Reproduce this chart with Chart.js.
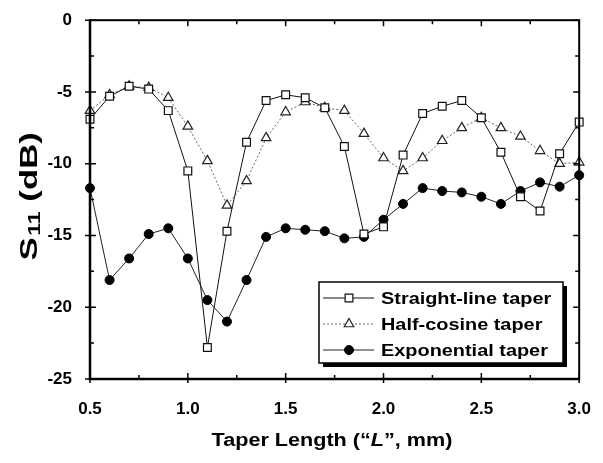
<!DOCTYPE html>
<html lang="en">
<head>
<meta charset="UTF-8">
<title>S11 vs taper length</title>
<script src="https://cdn.jsdelivr.net/npm/chart.js"></script>
<style>
  html, body { margin: 0; padding: 0; background: #fff; }
  #wrap { width: 603px; height: 463px; }
</style>
</head>
<body>
<div id="wrap"><canvas id="grafico"></canvas></div>

<script>
    // taper length L (mm)
    const comprimentos = [0.5, 0.6, 0.7, 0.8, 0.9, 1.0, 1.1, 1.2, 1.3, 1.4, 1.5, 1.6, 1.7,
                          1.8, 1.9, 2.0, 2.1, 2.2, 2.3, 2.4, 2.5, 2.6, 2.7, 2.8, 2.9, 3.0];

    // S11 (dB)
    const retaLinear = [-6.9, -5.3, -4.6, -4.8, -6.3, -10.5, -22.8, -14.7, -8.5, -5.6, -5.2, -5.4, -6.1,
                        -8.8, -14.9, -14.4, -9.4, -6.5, -6.0, -5.6, -6.8, -9.2, -12.3, -13.3, -9.3, -7.1];
    const meioCosseno = [-6.3, -5.2, -4.6, -4.7, -5.4, -7.4, -9.8, -12.9, -11.2, -8.2, -6.4, -5.7, -6.1,
                         -6.3, -7.9, -9.6, -10.5, -9.6, -8.4, -7.5, -6.8, -7.5, -8.1, -9.1, -10.0, -9.9];
    const exponencial = [-11.7, -18.1, -16.6, -14.9, -14.5, -16.6, -19.5, -21.0, -18.1, -15.1, -14.5, -14.6, -14.7,
                         -15.2, -15.1, -13.9, -12.8, -11.7, -11.9, -12.0, -12.3, -12.8, -11.9, -11.3, -11.6, -10.8];

    const nomesSeries = ['Straight-line taper', 'Half-cosine taper', 'Exponential taper'];
    const ticksX = [0.5, 1.0, 1.5, 2.0, 2.5, 3.0];
    const ticksY = [0, -5, -10, -15, -20, -25];

    const FONTE = '"Liberation Sans", Arial, sans-serif';

    function pontos(ys) {
        return comprimentos.map((x, i) => ({ x: x, y: ys[i] }));
    }

    // frame, inward ticks, axis titles and the boxed legend
    const moldura = {
        id: 'moldura',
        afterDatasetsDraw(chart) {
            const ctx = chart.ctx;
            const a = chart.chartArea;
            const sx = chart.scales.x, sy = chart.scales.y;
            ctx.save();
            ctx.strokeStyle = '#000';
            ctx.lineWidth = 2;
            ctx.strokeRect(a.left, a.top, a.right - a.left, a.bottom - a.top);
            ctx.lineWidth = 2.5;
            ctx.beginPath();
            ctx.moveTo(a.left, a.top); ctx.lineTo(a.left, a.bottom); ctx.lineTo(a.right, a.bottom);
            ctx.stroke();

            ctx.lineWidth = 1.5;
            ctx.beginPath();
            for (let v = ticksX[0]; v <= ticksX[ticksX.length - 1] + 1e-9; v += 0.25) {
                const px = sx.getPixelForValue(v);
                const major = Math.abs(v * 2 - Math.round(v * 2)) < 1e-6;
                const len = major ? 6 : 4;
                ctx.moveTo(px, a.bottom); ctx.lineTo(px, a.bottom - len);
                if (major) { ctx.moveTo(px, a.bottom); ctx.lineTo(px, a.bottom + 4); }
                ctx.moveTo(px, a.top); ctx.lineTo(px, a.top + len);
            }
            for (let v = ticksY[ticksY.length - 1]; v <= ticksY[0] + 1e-9; v += 2.5) {
                const py = sy.getPixelForValue(v);
                const major = Math.abs(v / 5 - Math.round(v / 5)) < 1e-6;
                const len = major ? 6 : 4;
                ctx.moveTo(a.left, py); ctx.lineTo(a.left + len, py);
                if (major) { ctx.moveTo(a.left, py); ctx.lineTo(a.left - 5, py); }
                ctx.moveTo(a.right, py); ctx.lineTo(a.right - len, py);
            }
            ctx.stroke();

            // y title with subscript
            ctx.fillStyle = '#000';
            ctx.save();
            ctx.translate(37, 197);
            ctx.rotate(-Math.PI / 2);
            ctx.scale(1.45, 1);
            ctx.textBaseline = 'alphabetic';
            ctx.font = 'bold 24px ' + FONTE;
            const wS = ctx.measureText('S').width;
            ctx.font = 'bold 16px ' + FONTE;
            const w11 = ctx.measureText('11').width;
            ctx.font = 'bold 24px ' + FONTE;
            const wResto = ctx.measureText(' (dB)').width;
            let x0 = -(wS + w11 + wResto) / 2;
            ctx.fillText('S', x0, 0);
            ctx.font = 'bold 16px ' + FONTE;
            ctx.fillText('11', x0 + wS + 1, 3);
            ctx.font = 'bold 24px ' + FONTE;
            ctx.fillText(' (dB)', x0 + wS + w11 + 1, 0);
            ctx.restore();

            // x title, L in italics
            ctx.save();
            ctx.translate(332, 446);
            ctx.scale(1.2, 1);
            ctx.textBaseline = 'alphabetic';
            const partes = [['Taper Length (\u201C', 'bold '], ['L', 'italic bold '], ['\u201D, mm)', 'bold ']];
            let total = 0;
            partes.forEach(p => { ctx.font = p[1] + '18px ' + FONTE; total += ctx.measureText(p[0]).width; });
            let xx = -total / 2;
            partes.forEach(p => {
                ctx.font = p[1] + '18px ' + FONTE;
                ctx.fillText(p[0], xx, 0);
                xx += ctx.measureText(p[0]).width;
            });
            ctx.restore();

            // legend box with drop shadow
            const bx = 319, by = 282, bw = 244, bh = 81;
            ctx.fillStyle = '#000';
            ctx.fillRect(bx + 4, by + 4, bw, bh);
            ctx.fillStyle = '#fff';
            ctx.fillRect(bx, by, bw, bh);
            ctx.lineWidth = 1.5;
            ctx.strokeStyle = '#000';
            ctx.strokeRect(bx, by, bw, bh);

            chart.data.datasets.forEach((ds, i) => {
                const cy = by + 16 + i * 26;
                ctx.save();
                ctx.strokeStyle = ds.borderColor;
                ctx.lineWidth = ds.borderWidth;
                ctx.setLineDash(ds.borderDash || []);
                ctx.beginPath();
                ctx.moveTo(323, cy); ctx.lineTo(374, cy);
                ctx.stroke();
                ctx.setLineDash([]);
                ctx.fillStyle = ds.pointBackgroundColor;
                ctx.strokeStyle = ds.pointBorderColor;
                ctx.lineWidth = ds.pointBorderWidth;
                Chart.helpers.drawPoint(ctx, {
                    pointStyle: ds.pointStyle,
                    radius: ds.pointRadius,
                    borderWidth: ds.pointBorderWidth
                }, 349, cy);
                ctx.restore();

                ctx.save();
                ctx.fillStyle = '#000';
                ctx.font = 'bold 17px ' + FONTE;
                ctx.textBaseline = 'middle';
                ctx.translate(381, cy + 1);
                ctx.scale(1.17, 1);
                ctx.fillText(ds.label, 0, 0);
                ctx.restore();
            });
            ctx.restore();
        }
    };

    const dados = {
        datasets: [
            {
                label: nomesSeries[0],
                data: pontos(retaLinear),
                borderColor: '#111',
                borderWidth: 1,
                pointStyle: 'rect',
                pointRadius: 5.5,
                pointBackgroundColor: '#fff',
                pointBorderColor: '#111',
                pointBorderWidth: 1.2
            },
            {
                label: nomesSeries[1],
                data: pontos(meioCosseno),
                borderColor: '#666',
                borderWidth: 1,
                borderDash: [2, 2],
                pointStyle: 'triangle',
                pointRadius: 5.5,
                pointBackgroundColor: '#fff',
                pointBorderColor: '#222',
                pointBorderWidth: 1.2
            },
            {
                label: nomesSeries[2],
                data: pontos(exponencial),
                borderColor: '#222',
                borderWidth: 1,
                pointStyle: 'circle',
                pointRadius: 4.5,
                pointBackgroundColor: '#000',
                pointBorderColor: '#000',
                pointBorderWidth: 1
            }
        ]
    };

    const config = {
        type: 'scatter',
        data: dados,
        plugins: [moldura],
        options: {
            responsive: false,
            animation: false,
            showLine: true,
            clip: false,
            layout: { padding: { left: 0, top: 19, right: 17, bottom: 0 } },
            plugins: { legend: { display: false }, tooltip: { enabled: false } },
            scales: {
                x: {
                    type: 'linear',
                    min: ticksX[0],
                    max: ticksX[ticksX.length - 1],
                    grid: { display: false },
                    border: { display: false },
                    afterFit: (s) => { s.height = 84; },
                    afterBuildTicks: (s) => { s.ticks = ticksX.map(v => ({ value: v })); },
                    ticks: {
                        color: '#000',
                        padding: 12,
                        maxRotation: 0,
                        font: { family: FONTE, size: 17, weight: 'bold' },
                        callback: (v) => Number(v).toFixed(1)
                    }
                },
                y: {
                    min: ticksY[ticksY.length - 1],
                    max: ticksY[0],
                    grid: { display: false },
                    border: { display: false },
                    afterFit: (s) => { s.width = 90; },
                    afterBuildTicks: (s) => { s.ticks = ticksY.map(v => ({ value: v })); },
                    ticks: {
                        color: '#000',
                        padding: 10,
                        font: { family: FONTE, size: 17, weight: 'bold' },
                        callback: (v) => String(v)
                    }
                }
            }
        }
    };

    const canvas = document.getElementById('grafico');
    canvas.width = 603;
    canvas.height = 463;
    new Chart(canvas, config);
</script>
</body>
</html>
